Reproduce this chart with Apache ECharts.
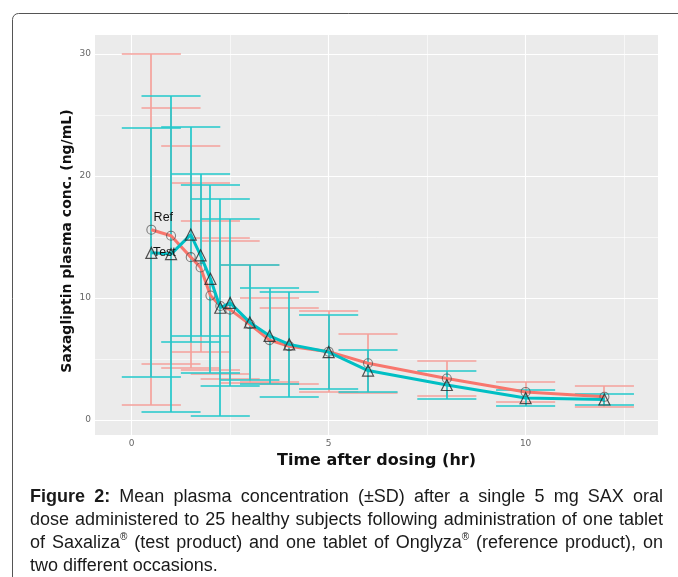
<!DOCTYPE html>
<html>
<head>
<meta charset="utf-8">
<script src="https://cdn.jsdelivr.net/npm/echarts@6/dist/echarts.min.js"></script>
<style>html,body{margin:0;padding:0;background:#fff;}#c{width:678px;height:577px;}</style>
</head>
<body>
<div id="c"></div>
<script>
// ---- data ----
const times    = [0.5, 1, 1.5, 1.75, 2, 2.25, 2.5, 3, 3.5, 4, 5, 6, 8, 10, 12];
const refMean  = [15.6, 15.1, 13.35, 12.5, 10.2, 9.35, 9.05, 7.85, 6.55, 6.05, 5.6, 4.65, 3.4, 2.3, 1.9];
const refSD    = [14.4, 10.5, 9.1, 6.95, 6.1, 5.6, 5.65, 4.85, 3.45, 3.1, 3.3, 2.4, 1.47, 0.82, 0.85];
const testMean = [13.7, 13.6, 15.2, 13.5, 11.57, 9.2, 9.6, 8.0, 6.9, 6.2, 5.57, 4.05, 2.87, 1.8, 1.68];
const testSD   = [10.2, 12.97, 8.8, 6.63, 7.7, 8.9, 6.85, 4.74, 3.95, 4.3, 3.03, 1.72, 1.17, 0.63, 0.45];
const xTicks = [0, 5, 10];
const xMinorGrid = [2.5, 7.5, 12.5];
const yTicks = [0, 10, 20, 30];
const yMinorGrid = [5, 15, 25];
const seriesNames = ['Ref', 'Test'];
const xTitle = 'Time after dosing (hr)';
const yTitle = 'Saxagliptin plasma conc. (ng/mL)';
const captionLines = [
  'Figure 2: Mean plasma concentration (\u00B1SD) after a single 5 mg SAX oral',
  'dose administered to 25 healthy subjects following administration of one tablet',
  'of Saxaliza\u00AE (test product) and one tablet of Onglyza\u00AE (reference product), on',
  'two different occasions.'
];

// ---- styling ----
const RED = '#F8766D', CYAN = '#00BFC4';
const CAP = 0.75;

function errData(mean, sd) {
  return times.map((t, i) => [t, +(mean[i] - sd[i]).toFixed(3), +(mean[i] + sd[i]).toFixed(3)]);
}
function errSeries(name, data, color, z) {
  return {
    type: 'custom', name: name, data: data, z: z, silent: true,
    encode: { x: 0, y: [1, 2] },
    renderItem: function (params, api) {
      const x = api.value(0), lo = api.value(1), hi = api.value(2);
      const pLo = api.coord([x, lo]), pHi = api.coord([x, hi]);
      const cx = Math.round(pLo[0]);
      const l = api.coord([x - CAP, lo])[0], r = api.coord([x + CAP, lo])[0];
      const yHi = Math.round(pHi[1]), yLo = Math.round(pLo[1]);
      const st = { stroke: color, lineWidth: 1.7, fill: null, opacity: 1 };
      return {
        type: 'group', children: [
          { type: 'line', shape: { x1: cx, y1: yLo, x2: cx, y2: yHi }, style: st },
          { type: 'line', shape: { x1: l, y1: yHi, x2: r, y2: yHi }, style: st },
          { type: 'line', shape: { x1: l, y1: yLo, x2: r, y2: yLo }, style: st }
        ]
      };
    }
  };
}
function lineData(mean, labelText, offset) {
  return times.map((t, i) => {
    const d = { value: [t, mean[i]] };
    if (i === 0) d.label = { show: true, formatter: labelText, position: 'inside', offset: offset,
      color: '#111', fontSize: 12.5, fontFamily: 'Liberation Sans, Arial, sans-serif' };
    return d;
  });
}

const gridLines = []
  .concat(xTicks.map(v => ({ xAxis: v, lineStyle: { width: 1.1 } })))
  .concat(xMinorGrid.map(v => ({ xAxis: v, lineStyle: { width: 0.6 } })))
  .concat(yTicks.map(v => ({ yAxis: v, lineStyle: { width: 1.1 } })))
  .concat(yMinorGrid.map(v => ({ yAxis: v, lineStyle: { width: 0.6 } })));

// ---- caption (justified) ----
const measCtx = document.createElement('canvas').getContext('2d');
const CAP_FONT = 'Liberation Sans, Arial, sans-serif';
const CAP_SIZE = 18;
function mw(text, size, bold) {
  measCtx.font = (bold ? 'bold ' : '') + size + 'px ' + CAP_FONT;
  return measCtx.measureText(text).width;
}
function buildCaption() {
  const els = [];
  const X0 = 30, X1 = 663, Y0 = 497, LH = 23;
  captionLines.forEach((line, li) => {
    const words = line.split(' ');
    const pieces = words.map((w, wi) => {
      const bold = li === 0 && wi < 2;
      const parts = [];
      const segs = w.split('\u00AE');
      segs.forEach((s, si) => {
        if (s) parts.push({ t: s, size: CAP_SIZE, bold: bold, dy: 0 });
        if (si < segs.length - 1) parts.push({ t: '\u00AE', size: 10, bold: false, dy: -6 });
      });
      parts.forEach(p => p.w = mw(p.t, p.size, p.bold));
      return { parts: parts, w: parts.reduce((a, p) => a + p.w, 0) };
    });
    const total = pieces.reduce((a, p) => a + p.w, 0);
    const last = li === captionLines.length - 1;
    const gap = last ? mw(' ', CAP_SIZE, false) : (X1 - X0 - total) / (pieces.length - 1);
    let x = X0;
    const y = Y0 + li * LH;
    pieces.forEach(pc => {
      let px = x;
      pc.parts.forEach(p => {
        els.push({ type: 'text', x: px, y: y + p.dy, silent: true,
          style: { text: p.t, font: (p.bold ? 'bold ' : '') + p.size + 'px ' + CAP_FONT,
            fill: '#1a1a1a', textVerticalAlign: 'middle', verticalAlign: 'middle' } });
        px += p.w;
      });
      x += pc.w + gap;
    });
  });
  return els;
}

const chart = echarts.init(document.getElementById('c'), null, { renderer: 'canvas' });
const tickFont = 'DejaVu Sans, sans-serif';
chart.setOption({
  animation: false,
  backgroundColor: '#fff',
  grid: { left: 95, right: 20, top: 35, bottom: 142, show: true, backgroundColor: '#EBEBEB', borderWidth: 0 },
  xAxis: {
    type: 'value', min: -0.93, max: 13.36,
    splitLine: { show: false }, axisLine: { show: false },
    axisTick: { show: true, customValues: xTicks, length: 4, lineStyle: { color: '#555', width: 1 } },
    axisLabel: { customValues: xTicks, color: '#666', fontSize: 9, margin: 4, fontFamily: tickFont },
    name: xTitle, nameLocation: 'middle', nameGap: 16,
    nameTextStyle: { fontWeight: 'bold', fontSize: 16, color: '#111', fontFamily: tickFont }
  },
  yAxis: {
    type: 'value', min: -1.23, max: 31.56,
    splitLine: { show: false }, axisLine: { show: false },
    axisTick: { show: true, customValues: yTicks, length: 4, lineStyle: { color: '#555', width: 1 } },
    axisLabel: { customValues: yTicks, color: '#666', fontSize: 9, margin: 4, fontFamily: tickFont }
  },
  series: [
    { type: 'line', data: [], z: 1, silent: true,
      markLine: { z: 1, silent: true, symbol: 'none', label: { show: false },
        lineStyle: { color: '#ffffff', type: 'solid' }, data: gridLines, animation: false } },
    errSeries(seriesNames[0] + ' SD', errData(refMean, refSD), '#F5A19B', 3),
    errSeries(seriesNames[1] + ' SD', errData(testMean, testSD), '#22C8CB', 4),
    { type: 'line', name: seriesNames[0], data: lineData(refMean, 'Ref', [12, -12]), z: 5,
      symbol: 'circle', symbolSize: 9, showSymbol: true,
      lineStyle: { color: RED, width: 3, opacity: 1 },
      itemStyle: { color: 'rgba(0,0,0,0)', borderColor: 'rgba(80,80,80,0.7)', borderWidth: 1.1 } },
    { type: 'line', name: seriesNames[1], data: lineData(testMean, 'Test', [13, 0]), z: 6,
      symbol: 'triangle', symbolSize: 11, showSymbol: true,
      lineStyle: { color: CYAN, width: 3, opacity: 1 },
      itemStyle: { color: 'rgba(0,0,0,0)', borderColor: 'rgba(40,40,40,0.8)', borderWidth: 1.2 } }
  ],
  graphic: [
    { type: 'rect', silent: true, shape: { x: 12.5, y: 13.5, width: 700, height: 620, r: 6 },
      style: { fill: null, stroke: '#555', lineWidth: 1 } },
    { type: 'text', silent: true, x: 67, y: 241, rotation: Math.PI / 2,
      style: { text: yTitle, font: 'bold 14px DejaVu Sans, sans-serif', fill: '#111',
        align: 'center', verticalAlign: 'middle', textAlign: 'center', textVerticalAlign: 'middle' } }
  ].concat(buildCaption())
});
</script>
</body>
</html>
